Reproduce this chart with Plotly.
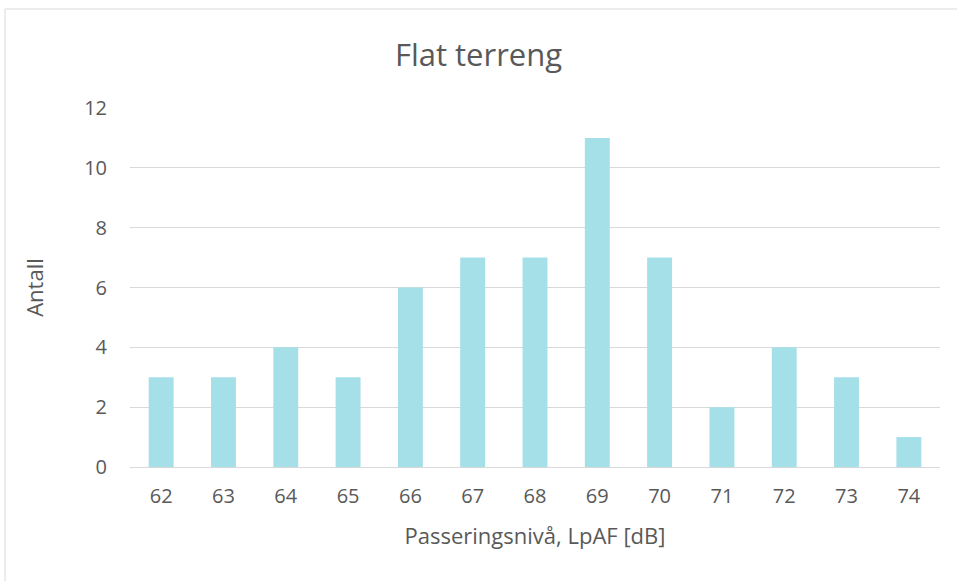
import plotly.graph_objects as go

levels = ["62", "63", "64", "65", "66", "67", "68", "69", "70", "71", "72", "73", "74"]
counts = [3, 3, 4, 3, 6, 7, 7, 11, 7, 2, 4, 3, 1]

fig = go.Figure(go.Bar(x=levels, y=counts, marker=dict(color="#a5dfe8", line=dict(width=0)), width=0.4))

L, R, T, B = 130, 17, 108, 114
W, H = 957, 581
pw, ph = W - L - R, H - T - B

def px(x):
    return (x - L) / pw

def py(y):
    return (H - B - y) / ph

fig.add_shape(type="rect", xref="paper", yref="paper",
              x0=px(5), x1=px(965), y0=py(9), y1=py(590),
              line=dict(color="#d9d9d9", width=1), fillcolor="rgba(0,0,0,0)", layer="below")

fig.update_layout(
    width=W, height=H,
    margin=dict(l=L, r=R, t=T, b=B),
    paper_bgcolor="white", plot_bgcolor="white",
    font=dict(family="Open Sans, Liberation Sans, sans-serif", color="#595959"),
    title=dict(text="Flat terreng", x=0.5, xanchor="center", y=1 - 55 / H, yanchor="middle",
               font=dict(size=31, color="#595959")),
    showlegend=False,
    bargap=0.6,
)
fig.update_xaxes(type="category", showgrid=False, showline=False, ticks="",
                 tickfont=dict(size=20, color="#595959"), ticklabelstandoff=15,
                 title=dict(text="Passeringsnivå, LpAF [dB]", font=dict(size=22, color="#595959"), standoff=20))
fig.update_yaxes(range=[0, 12], dtick=2, gridcolor="#d9d9d9", gridwidth=1, zeroline=True,
                 zerolinecolor="#d9d9d9", zerolinewidth=1, showline=False, ticks="",
                 tickfont=dict(size=20, color="#595959"), ticklabelstandoff=22,
                 title=dict(text="Antall", font=dict(size=22, color="#595959"), standoff=34))

fig.write_html("out.html", post_script="document.body.style.margin='0';",
               config={"displayModeBar": False})
